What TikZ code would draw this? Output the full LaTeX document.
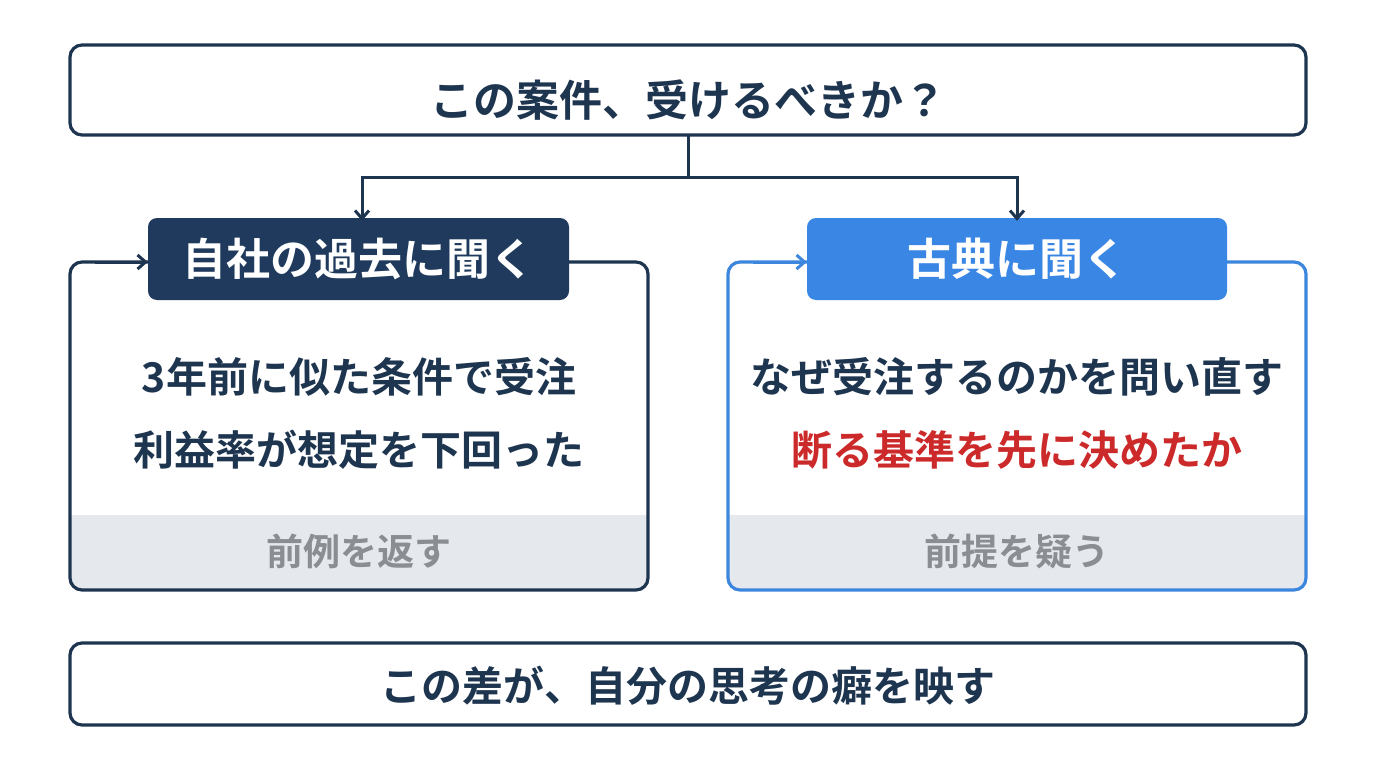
\documentclass[tikz,border=0pt]{standalone}
\usepackage{fontspec}
\setmainfont{Noto Sans CJK JP}[BoldFont={* Bold}]
\usetikzlibrary{arrows.meta}
\definecolor{navy}{HTML}{1E3550}
\definecolor{hnavy}{HTML}{1F3A5C}
\definecolor{blu}{HTML}{3A86E4}
\definecolor{bblu}{HTML}{3D86DD}
\definecolor{band}{HTML}{E5E8EC}
\definecolor{gtxt}{HTML}{8A8D91}
\definecolor{red}{HTML}{CC2A2A}
\begin{document}
\begin{tikzpicture}[x=1pt,y=-1pt,
  frame/.style={rounded corners=12pt,line width=3.2pt},
  t/.style={font=\fontsize{41}{43}\bfseries\selectfont,text=navy,inner sep=0},
  head/.style={rounded corners=9pt,text=white,font=\fontsize{44}{46}\bfseries\selectfont},
  bt/.style={font=\fontsize{37}{40}\bfseries\selectfont,text=gtxt,inner sep=0},
  arr/.style={-{Straight Barb[length=8pt,width=14pt]},line width=3pt}]
\useasboundingbox[fill=white] (0,0) rectangle (1376,768);
% top
\draw[frame,draw=navy,fill=white] (70,45) rectangle (1306,135);
\node[t,font=\fontsize{43}{45}\bfseries\selectfont] (top) at (688,100) {この案件、受けるべきか？};
\coordinate (tb) at (688,135);
% left panel
\begin{scope}
\clip[rounded corners=12pt] (70,262) rectangle (648,590);
\fill[band] (70,515) rectangle (648,590);
\end{scope}
\draw[frame,draw=navy] (70,262) rectangle (648,590);
\node[head,fill=hnavy,minimum width=421pt,minimum height=82pt] (lh) at (358.5,259) {自社の過去に聞く};
\draw[arr,draw=navy] (95,262) -- (lh.west|-95,262);
\node[t] (l1) at (359,377) {3年前に似た条件で受注};
\node[t] (l2) at (359,450) {利益率が想定を下回った};
\node[bt] (lb) at (359,551) {前例を返す};
% right panel
\begin{scope}
\clip[rounded corners=12pt] (728,262) rectangle (1306,590);
\fill[band] (728,515) rectangle (1306,590);
\end{scope}
\draw[frame,draw=bblu] (728,262) rectangle (1306,590);
\node[head,fill=blu,minimum width=420pt,minimum height=82pt] (rh) at (1017,259) {古典に聞く};
\draw[arr,draw=bblu] (753,262) -- (rh.west|-753,262);
\node[t] (r1) at (1017,377) {なぜ受注するのかを問い直す};
\node[t,text=red] (r2) at (1017,450) {断る基準を先に決めたか};
\node[bt] (rb) at (1017,551) {前提を疑う};
% connectors
\draw[line width=3pt,draw=navy] (tb) -- (688,177) coordinate (mid);
\draw[arr,draw=navy] (mid) -| ([yshift=-3pt]lh.north -| 362,0);
\draw[arr,draw=navy] (mid) -| ([yshift=-3pt]rh.north);
% bottom
\draw[frame,draw=navy,fill=white] (70,643) rectangle (1306,725);
\node[t] (bot) at (688,686) {この差が、自分の思考の癖を映す};
\end{tikzpicture}
\end{document}
